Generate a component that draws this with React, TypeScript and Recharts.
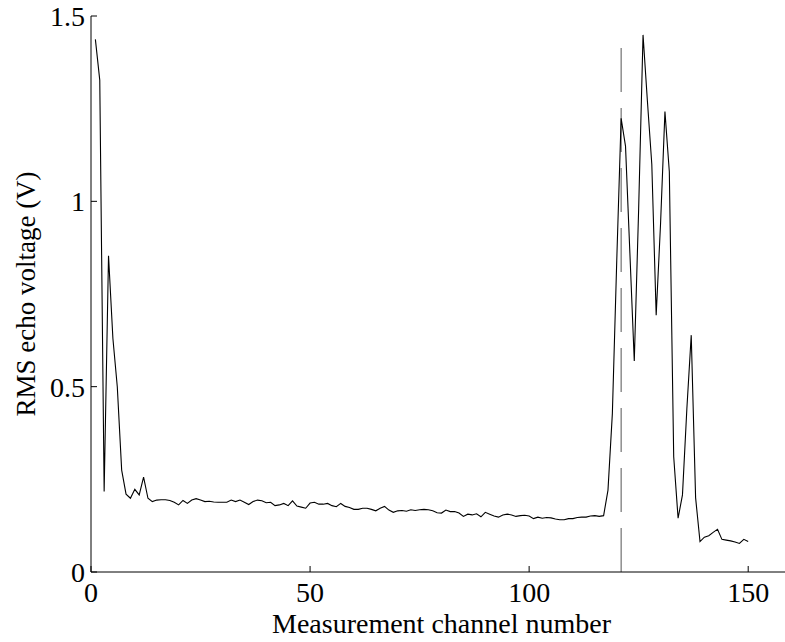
import React from "react";
import {
  LineChart,
  Line,
  XAxis,
  YAxis,
  ReferenceLine,
  Label,
} from "recharts";

// RMS echo voltage (V) per measurement channel, channels 1..150
const rmsVoltage = [
  1.437, 1.327, 0.217, 0.853, 0.63, 0.5, 0.275, 0.21, 0.199, 0.223,
  0.208, 0.256, 0.199, 0.19, 0.194, 0.195, 0.195, 0.193, 0.188, 0.181,
  0.193, 0.185, 0.194, 0.198, 0.194, 0.19, 0.191, 0.189, 0.188, 0.188,
  0.188, 0.194, 0.19, 0.194, 0.188, 0.182, 0.19, 0.194, 0.192, 0.187,
  0.188, 0.179, 0.181, 0.185, 0.179, 0.192, 0.178, 0.175, 0.172, 0.186,
  0.188, 0.183, 0.183, 0.185, 0.179, 0.176, 0.185, 0.177, 0.174, 0.169,
  0.169, 0.172, 0.172, 0.169, 0.165, 0.172, 0.177, 0.167, 0.161, 0.165,
  0.166, 0.164, 0.168, 0.166, 0.168, 0.169, 0.168, 0.165, 0.16, 0.159,
  0.167, 0.163, 0.163, 0.159, 0.15, 0.156, 0.154, 0.157, 0.149, 0.161,
  0.156, 0.151, 0.148, 0.154, 0.156, 0.154, 0.15, 0.152, 0.153, 0.151,
  0.144, 0.148, 0.145, 0.147, 0.146, 0.143, 0.141, 0.141, 0.144, 0.144,
  0.147, 0.148, 0.148, 0.151, 0.152, 0.15, 0.152, 0.221, 0.428, 0.84,
  1.224, 1.149, 0.86, 0.569, 0.98, 1.449, 1.27, 1.1, 0.693, 0.94,
  1.242, 1.08, 0.311, 0.145, 0.208, 0.44, 0.639, 0.2, 0.082, 0.094,
  0.098, 0.107, 0.115, 0.088, 0.086, 0.084, 0.081, 0.077, 0.088, 0.082,
];

const xTicks = [0, 50, 100, 150];
const yTicks = [0, 0.5, 1, 1.5];
const yTickLabels = ["0", "0.5", "1", "1.5"];

// dashed marker channel and its height
const markerChannel = 121;
const markerTop = 1.45;

const data = rmsVoltage.map((v, i) => ({ channel: i + 1, v }));

const FONT = "'Liberation Serif', 'Times New Roman', serif";
const FS = 28;

const BottomTick = (props: any) => {
  const { x, y, payload } = props;
  return (
    <g>
      <line x1={x} y1={y} x2={x} y2={y - 6} stroke="#000" strokeWidth={1} />
      <text
        x={x}
        y={y + 30}
        textAnchor="middle"
        fontFamily={FONT}
        fontSize={FS}
        fill="#000"
      >
        {payload.value}
      </text>
    </g>
  );
};

const TopTick = (props: any) => {
  const { x, y } = props;
  return <line x1={x} y1={y} x2={x} y2={y + 6} stroke="#000" strokeWidth={1} />;
};

const LeftTick = (props: any) => {
  const { x, y, payload, index } = props;
  return (
    <g>
      <line x1={x} y1={y} x2={x + 6} y2={y} stroke="#000" strokeWidth={1} />
      <text
        x={x - 6}
        y={y + 10}
        textAnchor="end"
        fontFamily={FONT}
        fontSize={FS}
        fill="#000"
      >
        {yTickLabels[index] ?? payload.value}
      </text>
    </g>
  );
};

const App = () => {
  return (
    <div
      style={{
        position: "absolute",
        left: 0,
        top: 0,
        width: 785,
        height: 642,
        overflow: "hidden",
        background: "#fff",
      }}
    >
      <LineChart
        width={800}
        height={642}
        data={data}
        margin={{ top: 16, right: 8, bottom: 0, left: 0 }}
      >
        <XAxis
          dataKey="channel"
          type="number"
          domain={[0, 160]}
          ticks={xTicks}
          interval={0}
          height={70}
          tickSize={0}
          tickMargin={0}
          tick={<BottomTick />}
          axisLine={{ stroke: "#000", strokeWidth: 1 }}
        >
          <Label
            content={(p: any) => {
              const vb = p.viewBox;
              return (
                <text
                  x={vb.x + vb.width / 2}
                  y={vb.y + 61}
                  textAnchor="middle"
                  fontFamily={FONT}
                  fontSize={FS}
                  fill="#000"
                >
                  Measurement channel number
                </text>
              );
            }}
          />
        </XAxis>
        <XAxis
          xAxisId="top"
          orientation="top"
          dataKey="channel"
          type="number"
          domain={[0, 160]}
          ticks={xTicks}
          interval={0}
          height={0}
          tickSize={0}
          tickMargin={0}
          tick={<TopTick />}
          axisLine={{ stroke: "#000", strokeWidth: 1 }}
        />
        <YAxis
          type="number"
          domain={[0, 1.5]}
          ticks={yTicks}
          interval={0}
          width={91}
          tickSize={0}
          tickMargin={0}
          tick={<LeftTick />}
          axisLine={{ stroke: "#000", strokeWidth: 1 }}
        >
          <Label
            content={(p: any) => {
              const vb = p.viewBox;
              const cy = vb.y + vb.height / 2;
              return (
                <text
                  x={35}
                  y={cy}
                  transform={`rotate(-90, 35, ${cy})`}
                  textAnchor="middle"
                  fontFamily={FONT}
                  fontSize={27}
                  fill="#000"
                >
                  RMS echo voltage (V)
                </text>
              );
            }}
          />
        </YAxis>
        <ReferenceLine
          segment={[
            { x: markerChannel, y: 0 },
            { x: markerChannel, y: markerTop },
          ]}
          stroke="#555"
          strokeWidth={1}
          strokeDasharray="44 16"
        />
        <Line
          type="linear"
          dataKey="v"
          stroke="#000"
          strokeWidth={1.1}
          dot={false}
          activeDot={false}
          isAnimationActive={false}
        />
      </LineChart>
    </div>
  );
};

export default App;
